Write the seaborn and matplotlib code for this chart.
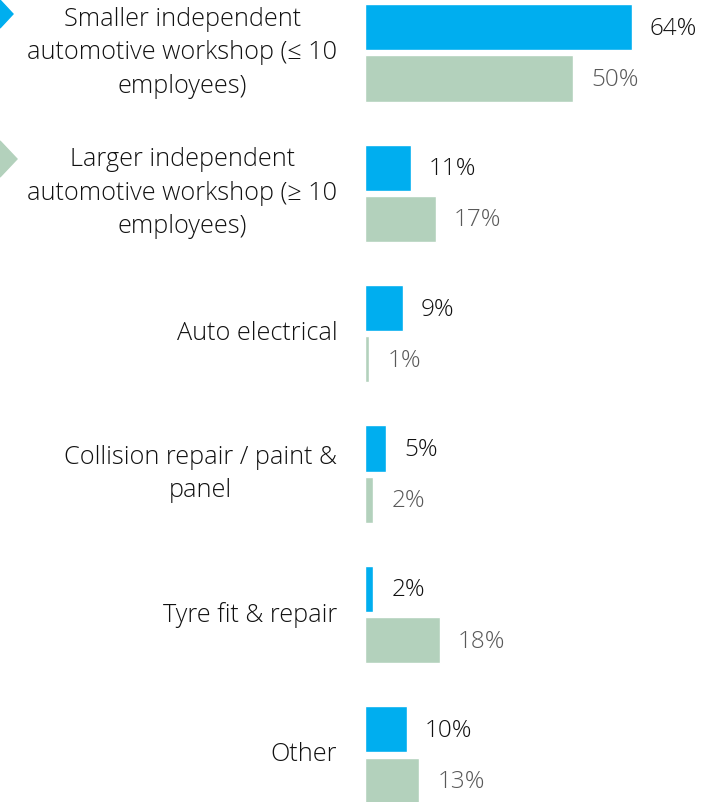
import numpy as np
import pandas as pd
import matplotlib.pyplot as plt
from matplotlib.patches import Polygon
import seaborn as sns

# data
categories = [
    "Smaller independent\nautomotive workshop (≤ 10\nemployees)",
    "Larger independent\nautomotive workshop (≥ 10\nemployees)",
    "Auto electrical",
    "Collision repair / paint &\npanel",
    "Tyre fit & repair",
    "Other",
]
series_names = ["Series A", "Series B"]
series_a = [64, 11, 9, 5, 2, 10]
series_b = [50, 17, 1, 2, 18, 13]

blue = "#00AEEF"
green = "#B3D1BC"

df = pd.DataFrame({
    "category": categories * 2,
    "series": [series_names[0]] * len(categories) + [series_names[1]] * len(categories),
    "value": series_a + series_b,
})

sns.set_style("white")
plt.rcParams["font.family"] = ["Open Sans", "DejaVu Sans"]

fig = plt.figure(figsize=(7.26, 8.02), dpi=100)
ax = fig.add_axes([365 / 726, 0, 361 / 726, 1])

sns.barplot(data=df, y="category", x="value", hue="series", order=categories,
            hue_order=series_names, palette=[blue, green], width=0.73, gap=0.1,
            saturation=1, legend=False, ax=ax)

ax.set_xlim(0, 86.6)
ax.set_ylim(5.335, -0.377)
ax.set_xlabel("")
ax.set_ylabel("")
ax.set_xticks([])
sns.despine(ax=ax, left=True, bottom=True)
ax.tick_params(axis="y", length=0, pad=20, labelsize=18.2)
for lab in ax.get_yticklabels():
    lab.set_multialignment("center")
    lab.set_verticalalignment("center")
    lab.set_linespacing(1.45)
    lab.set_fontweight("light")
    lab.set_color("#111111")

# value labels
text_colors = ["#111111", "#595959"]
for cont, col in zip(ax.containers, text_colors):
    for bar in cont:
        w = bar.get_width()
        y = bar.get_y() + bar.get_height() / 2
        ax.annotate(f"{w:.0f}%", xy=(w, y), xytext=(13, -1), textcoords="offset points",
                    ha="left", va="center", fontsize=17.5, fontweight="light", color=col)

# cropped legend arrow markers at the left edge
fig.patches.append(Polygon([[0, 1.0], [13 / 726, 1 - 14 / 802], [0, 1 - 28 / 802]],
                           closed=True, transform=fig.transFigure, color=blue))
fig.patches.append(Polygon([[0, 1 - 141 / 802], [17 / 726, 1 - 159 / 802], [0, 1 - 177 / 802]],
                           closed=True, transform=fig.transFigure, color=green))

fig.savefig("out.png", dpi=100)
